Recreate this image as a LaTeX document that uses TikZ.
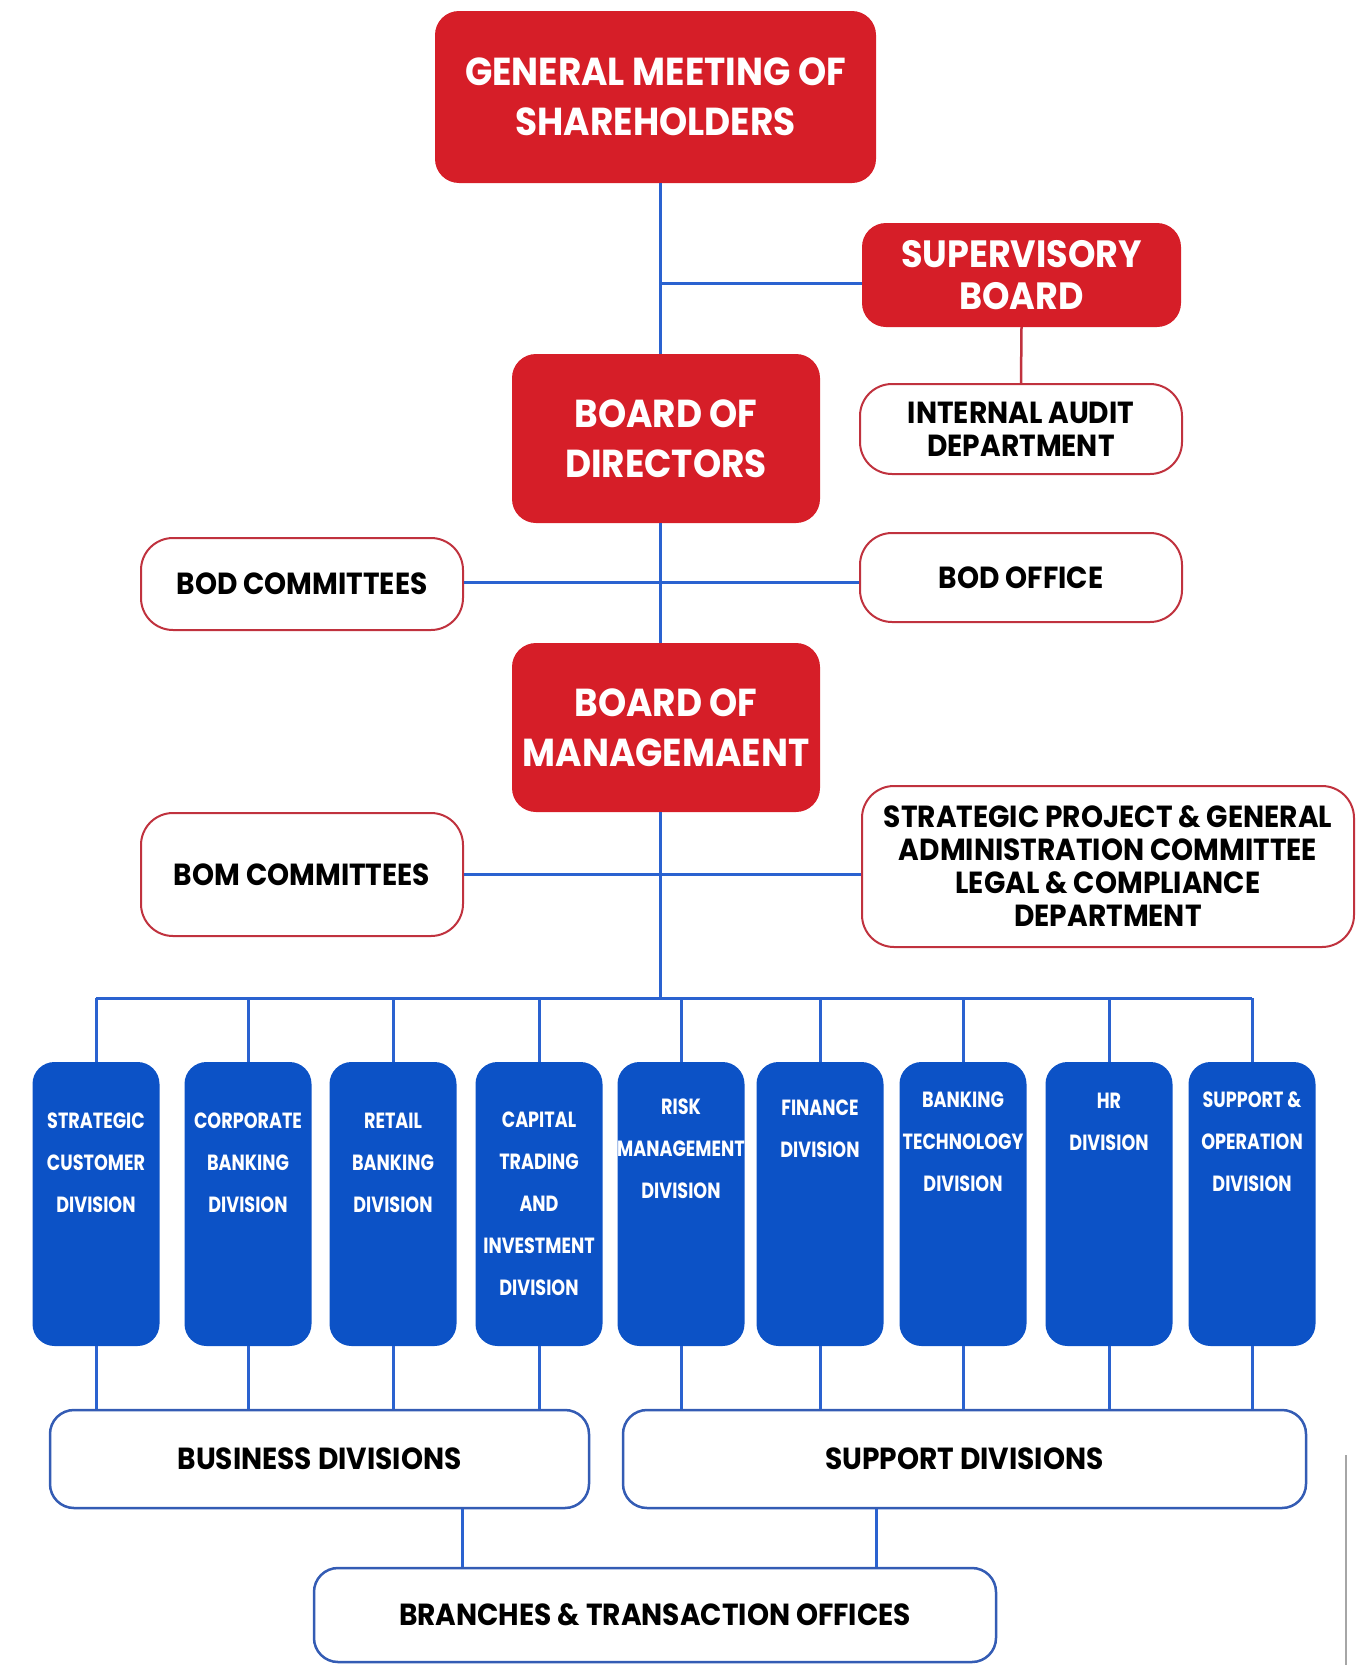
\documentclass[tikz,border=0pt]{standalone}
\usepackage{fontspec}
\setmainfont{Poppins}
\newfontfamily\hdfont{Poppins}[FakeStretch=0.92]
\newfontfamily\colfont{Poppins}[FakeStretch=0.80]

\definecolor{boardred}{RGB}{214,30,40}
\definecolor{edgered}{RGB}{192,50,62}
\definecolor{divblue}{RGB}{12,82,198}
\definecolor{linkblue}{RGB}{42,98,208}
\definecolor{edgeblue}{RGB}{52,92,180}

\tikzset{
  board/.style={fill=boardred, draw=none, rounded corners=24pt, text=white,
    align=center, inner sep=0pt},
  unit/.style={fill=white, draw=edgered, line width=2pt, rounded corners=32pt,
    text=black, align=center, inner sep=0pt},
  division/.style={fill=divblue, draw=none, rounded corners=22pt, inner sep=0pt,
    minimum width=127pt, minimum height=284pt},
  divtext/.style={text=white, align=center, inner sep=0pt,
    font=\colfont\bfseries\fontsize{22}{42}\selectfont},
  group/.style={fill=white, draw=edgeblue, line width=2.5pt, rounded corners=24pt,
    text=black, align=center, inner sep=0pt},
  link/.style={draw=linkblue, line width=3pt},
  redlink/.style={draw=edgered, line width=2.5pt},
  bigtext/.style={font=\hdfont\bfseries\fontsize{39}{50}\selectfont},
  midtext/.style={font=\hdfont\bfseries\fontsize{30.5}{33}\selectfont},
}

\begin{document}
\begin{tikzpicture}[x=1pt,y=-1pt]
\useasboundingbox (0,0) rectangle (1360,1665);

% governing bodies
\node[board, bigtext, minimum width=441pt, minimum height=172pt] (gms) at (655.5,97)
  {GENERAL MEETING OF\\SHAREHOLDERS};
\node[board, font=\hdfont\bfseries\fontsize{38}{42}\selectfont,
  minimum width=319pt, minimum height=104pt] (sb) at (1021.5,275)
  {SUPERVISORY\\BOARD};
\node[unit, midtext, minimum width=322pt, minimum height=90pt] (iad) at (1021,429)
  {INTERNAL AUDIT\\DEPARTMENT};
\node[board, bigtext, minimum width=308pt, minimum height=169pt] (bod) at (666,438.5)
  {BOARD OF\\DIRECTORS};
\node[unit, midtext, minimum width=322pt, minimum height=92pt] (bodc) at (302,584)
  {BOD COMMITTEES};
\node[unit, midtext, minimum width=322pt, minimum height=89pt] (bodo) at (1021,577.5)
  {BOD OFFICE};
\node[board, bigtext, minimum width=308pt, minimum height=169pt] (bom) at (666,727.5)
  {BOARD OF\\MANAGEMAENT};
\node[unit, midtext, minimum width=322pt, minimum height=123pt] (bomc) at (302,874.5)
  {BOM COMMITTEES};
\node[unit, midtext, minimum width=492pt, minimum height=161pt] (spg) at (1108,866.5)
  {STRATEGIC PROJECT \& GENERAL\\ADMINISTRATION COMMITTEE\\LEGAL \& COMPLIANCE\\DEPARTMENT};

% trunk and side branches
\coordinate (tr) at (660,0);
\coordinate (sbj) at (660,283);
\coordinate (bodj) at (660,582);
\coordinate (bomj) at (660,874);
\coordinate (bus) at (660,998);
\draw[link] (gms.south -| tr) -- (bod.north -| tr);
\draw[link] (sbj) -- (sbj -| sb.west);
\draw[redlink] (sb.south) -- (iad.north);
\draw[link] (bod.south -| tr) -- (bom.north -| tr);
\draw[link] (bodj -| bodc.east) -- (bodj -| bodo.west);
\draw[link] (bom.south -| tr) -- (bus);
\draw[link] (bomj -| bomc.east) -- (bomj -| spg.west);

% divisions
\foreach \n/\x in {1/96, 2/248, 3/393, 4/539, 5/681, 6/820, 7/963, 8/1109, 9/1252}
  \node[division] (d\n) at (\x,1204) {};
\draw[link] (d1.north |- bus) -- (d9.north |- bus);
\foreach \n in {1,...,9}
  \draw[link] (d\n.north |- bus) -- (d\n.north);

\node[divtext] at (d1.center |- 0,1162.5) {STRATEGIC\\CUSTOMER\\DIVISION};
\node[divtext] at (d2.center |- 0,1162.5) {CORPORATE\\BANKING\\DIVISION};
\node[divtext] at (d3.center |- 0,1162.5) {RETAIL\\BANKING\\DIVISION};
\node[divtext] at (d4.center |- 0,1204) {CAPITAL\\TRADING\\AND\\INVESTMENT\\DIVISION};
\node[divtext] at (d5.center |- 0,1149) {RISK\\MANAGEMENT\\DIVISION};
\node[divtext] at (d6.center |- 0,1128.5) {FINANCE\\DIVISION};
\node[divtext] at (d7.center |- 0,1142) {BANKING\\TECHNOLOGY\\DIVISION};
\node[divtext] at (d8.center |- 0,1121.5) {HR\\DIVISION};
\node[divtext] at (d9.center |- 0,1142) {SUPPORT \&\\OPERATION\\DIVISION};

% division groups
\node[group, midtext, minimum width=539pt, minimum height=98pt] (bdiv) at (319.5,1459)
  {BUSINESS DIVISIONS};
\node[group, midtext, minimum width=683pt, minimum height=98pt] (sdiv) at (964.5,1459)
  {SUPPORT DIVISIONS};
\node[group, midtext, minimum width=682pt, minimum height=94pt] (br) at (655,1615)
  {BRANCHES \& TRANSACTION OFFICES};

\foreach \n in {1,...,4}
  \draw[link] (d\n.south) -- (d\n.south |- bdiv.north);
\foreach \n in {5,...,9}
  \draw[link] (d\n.south) -- (d\n.south |- sdiv.north);
\coordinate (bj) at (462,0);
\coordinate (sj) at (876,0);
\draw[link] (bdiv.south -| bj) -- (br.north -| bj);
\draw[link] (sdiv.south -| sj) -- (br.north -| sj);

% thin rule at the right edge
\draw[gray!70, line width=1.5pt] (1346,1455) -- (1346,1665);
\end{tikzpicture}
\end{document}
